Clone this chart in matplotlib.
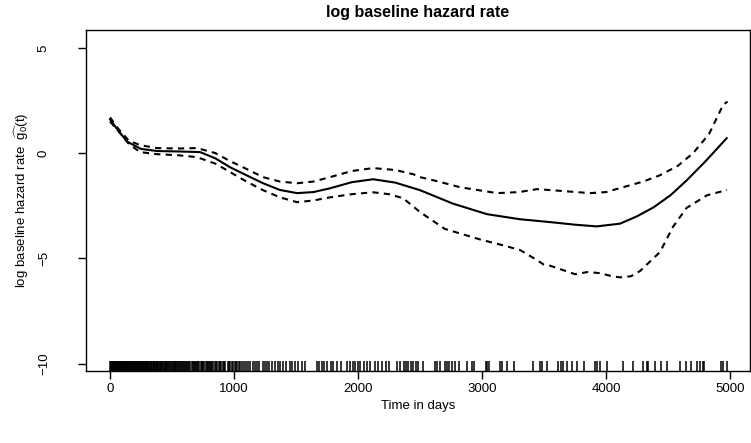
import matplotlib

matplotlib.use("Agg")
import matplotlib.pyplot as plt

# estimated log baseline hazard (days, value)
fit_t = [0, 50, 137, 250, 379, 550, 726, 850, 968, 1100, 1234, 1370, 1508, 1640,
         1774, 1950, 2121, 2300, 2500, 2766, 3040, 3306, 3573, 3750, 3925, 4113,
         4250, 4382, 4520, 4651, 4800, 4973]
fit_g = [1.6, 1.2, 0.55, 0.2, 0.1, 0.08, 0.05, -0.25, -0.67, -1.05, -1.43, -1.75,
         -1.9, -1.85, -1.67, -1.38, -1.24, -1.4, -1.76, -2.4, -2.9, -3.14, -3.29,
         -3.4, -3.48, -3.35, -3.0, -2.58, -2.0, -1.29, -0.4, 0.71]

upper_t = [0, 60, 150, 242, 379, 550, 701, 850, 968, 1100, 1234, 1370, 1508, 1640,
           1774, 1950, 2121, 2300, 2444, 2500, 2650, 2823, 3121, 3300, 3444, 3650,
           3871, 4000, 4137, 4300, 4435, 4580, 4702, 4830, 4944, 4980]
upper_g = [1.7, 1.2, 0.6, 0.38, 0.24, 0.22, 0.24, 0.0, -0.38, -0.75, -1.14, -1.35,
           -1.43, -1.35, -1.14, -0.85, -0.71, -0.8, -1.0, -1.14, -1.35, -1.62, -1.9,
           -1.85, -1.71, -1.8, -1.9, -1.85, -1.62, -1.35, -1.05, -0.6, 0.0, 0.9,
           2.29, 2.45]

lower_t = [0, 60, 150, 242, 379, 550, 701, 850, 968, 1100, 1234, 1370, 1508, 1640,
           1774, 1950, 2121, 2250, 2363, 2500, 2700, 2984, 3150, 3306, 3420, 3500,
           3550, 3650, 3750, 3850, 3950, 4050, 4113, 4200, 4274, 4435, 4540, 4650,
           4815, 4976]
lower_g = [1.5, 1.1, 0.45, 0.05, -0.05, -0.1, -0.19, -0.5, -0.9, -1.35, -1.76,
           -2.1, -2.33, -2.25, -2.1, -1.95, -1.86, -1.95, -2.14, -2.8, -3.6, -4.1,
           -4.35, -4.6, -5.0, -5.3, -5.35, -5.55, -5.75, -5.65, -5.7, -5.85, -5.9,
           -5.85, -5.6, -4.7, -3.5, -2.6, -2.0, -1.75]

# event times shown as rug (days)
rug_times = [
    0, 4, 8, 12, 16, 21, 25, 29, 33, 38, 42, 46, 50, 55, 59, 63, 68, 72, 76, 81,
    85, 90, 94, 99, 103, 108, 112, 117, 121, 126, 130, 135, 140, 144, 149, 154,
    158, 163, 168, 172, 177, 182, 187, 192, 197, 202, 207, 212, 217, 222, 228,
    233, 238, 243, 249, 254, 259, 265, 270, 276, 281, 287, 292, 298, 304, 309,
    315, 321, 327, 333, 339, 345, 351, 357, 363, 369, 376, 382, 388, 395, 401,
    408, 414, 421, 428, 434, 441, 448, 455, 462, 469, 476, 483, 490, 498, 505,
    512, 520, 527, 535, 542, 550, 558, 566, 574, 582, 590, 598, 606, 614, 623,
    631, 640, 648, 657, 666, 675, 684, 693, 702, 711, 720,
    730, 738, 745, 752, 760, 772, 781, 790, 797, 805, 815, 822, 830, 850, 856,
    862, 875, 883, 890, 905, 915, 922, 930, 950, 958, 965, 980, 990, 1005, 1012,
    1020, 1040, 1050, 1065, 1080, 1100, 1110, 1130, 1150, 1170, 1185, 1200, 1230,
    1248, 1266, 1285, 1306, 1331, 1352, 1371, 1395, 1420, 1452, 1470, 1492, 1516,
    1548, 1573, 1669, 1686, 1710, 1726, 1750, 1782, 1798, 1831, 1863, 1911, 1935,
    1960, 1976, 2000, 2016, 2048, 2073, 2097, 2137, 2161, 2194, 2226, 2250, 2315,
    2339, 2371, 2387, 2403, 2427, 2444, 2468, 2484, 2524, 2621, 2637, 2661, 2702,
    2718, 2734, 2758, 2782, 2815, 2879, 2919, 2935, 3032, 3040, 3056, 3145, 3161,
    3202, 3258, 3411, 3468, 3484, 3524, 3613, 3637, 3653, 3686, 3726, 3766, 3823,
    3911, 3927, 3952, 4008, 4137, 4218, 4298, 4331, 4339, 4395, 4444, 4492, 4597,
    4645, 4685, 4734, 4758, 4782, 4790, 4927, 4944, 4976,
]

x_ticks = [0, 1000, 2000, 3000, 4000, 5000]
y_ticks = [-10, -5, 0, 5]

plt.rcParams["font.family"] = ["Liberation Sans", "DejaVu Sans"]
plt.rcParams["mathtext.fontset"] = "custom"
plt.rcParams["mathtext.rm"] = "Liberation Sans"
plt.rcParams["mathtext.it"] = "Liberation Sans"

fig = plt.figure(figsize=(7.51, 4.43), dpi=100)
ax = fig.add_axes([86 / 751, 72 / 443, 664 / 751, 341 / 443])

ax.plot(fit_t, fit_g, color="black", lw=1.5)
ax.plot(upper_t, upper_g, color="black", lw=1.5, dashes=(3, 2.5))
ax.plot(lower_t, lower_g, color="black", lw=1.5, dashes=(3, 2.5))
ax.vlines(rug_times, 0, 0.03, color="black", lw=1.1,
          transform=ax.get_xaxis_transform())

ax.set_xlim(-194, 5161)
ax.set_ylim(-10.35, 5.85)
ax.set_xticks(x_ticks)
ax.set_yticks(y_ticks)
ax.set_yticklabels([str(v).replace("-", "\u2212") for v in y_ticks],
                   rotation=90, va="center")
ax.tick_params(direction="out", length=6, width=1, labelsize=9.5)
ax.tick_params(axis="x", pad=3)
ax.tick_params(axis="y", pad=20)
for s in ax.spines.values():
    s.set_linewidth(1)

ax.set_xlabel("Time in days", fontsize=9.5, labelpad=3)
ax.set_ylabel(r"log baseline hazard rate  $\widehat{g_0}(t)$", fontsize=9.5,
              labelpad=5)
ax.set_title("log baseline hazard rate", fontsize=11.5, fontweight="bold", pad=9)

fig.savefig("out.png")
